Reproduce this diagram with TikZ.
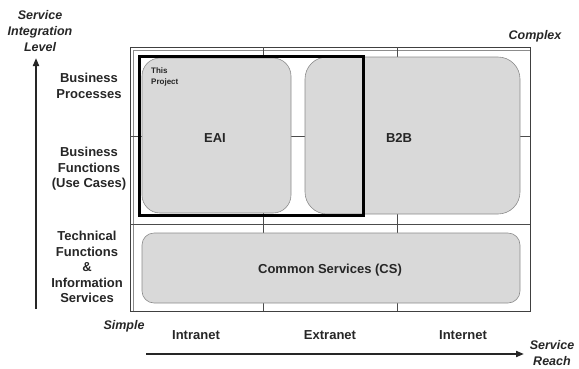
\documentclass[tikz,border=0pt]{standalone}
\usepackage{fontspec}
\setmainfont{Liberation Sans}
\usetikzlibrary{arrows.meta}
\begin{document}
\begin{tikzpicture}[x=1pt,y=-1pt,
  lbl/.style={font=\bfseries\fontsize{13}{15.5}\selectfont, text=black!85, align=center, inner sep=0pt},
  axlbl/.style={font=\bfseries\itshape\fontsize{12.5}{16}\selectfont, text=black!85, align=center, inner sep=0pt},
  small/.style={font=\bfseries\fontsize{8}{11}\selectfont, text=black!85, align=left, inner sep=0pt},
  gridline/.style={draw=black!70, line width=0.8pt},
  area/.style={draw=black!45, line width=0.6pt, fill=black!15, inner sep=0pt},
  axis/.style={line width=1.8pt, draw=black!85, -{Triangle[length=8pt,width=6pt]}},
  project/.style={draw=black, line width=3pt, inner sep=0pt}
]
\useasboundingbox (0,0) rectangle (579,368);
% frame and grid
\node[draw=black!75, line width=1pt, minimum width=400pt, minimum height=264pt, inner sep=0pt] (frame) at (330,179) {};
\draw[draw=black!45, line width=0.5pt] (133.5,311) -- (133.5,50.5) -- (530,50.5);
\draw[gridline] (130,136) -- (530,136);
\draw[gridline] (130,224) -- (530,224);
\draw[gridline] (263,47) -- (263,311);
\draw[gridline] (397,47) -- (397,311);
% areas
\node[area, rounded corners=18pt, minimum width=149pt, minimum height=155pt] (eaibox) at (216.5,135.5) {};
\node[area, rounded corners=22pt, minimum width=215pt, minimum height=157pt] (b2bbox) at (412.5,135.5) {};
\node[area, rounded corners=12pt, minimum width=378pt, minimum height=70pt] (csbox) at (331,268) {};
\node[project, minimum width=224pt, minimum height=159pt] (proj) at (251,135.5) {};
% area labels
\node[lbl] (eai) at (215,138) {EAI};
\node[lbl] (b2b) at (399,138) {B2B};
\node[lbl] (cs) at (330,270) {Common Services (CS)};
\node[small, anchor=west] (thisproj) at (151,76.5) {This\\Project};
% row labels
\node[lbl] (bp) at (89,86) {Business\\Processes};
\node[lbl] (bf) at (89,169) {Business\\Functions\\(Use Cases)};
\node[lbl] (tf) at (87,267) {Technical\\Functions\\\&\\Information\\Services};
% column labels
\node[lbl] (intra) at (196,335) {Intranet};
\node[lbl] (extra) at (330,335) {Extranet};
\node[lbl] (inter) at (463,335) {Internet};
% axis labels
\node[axlbl] (sil) at (40,31) {Service\\Integration\\Level};
\node[axlbl] (sr) at (552,353) {Service\\Reach};
\node[axlbl] (cx) at (535,36) {Complex};
\node[axlbl] (sp) at (124,326) {Simple};
% axes
\coordinate (vbot) at (36,309);
\coordinate (vtop) at (36,58);
\coordinate (hleft) at (146,354);
\coordinate (hright) at (524,354);
\draw[axis] (vbot) -- (vtop);
\draw[axis] (hleft) -- (hright);
\end{tikzpicture}
\end{document}
